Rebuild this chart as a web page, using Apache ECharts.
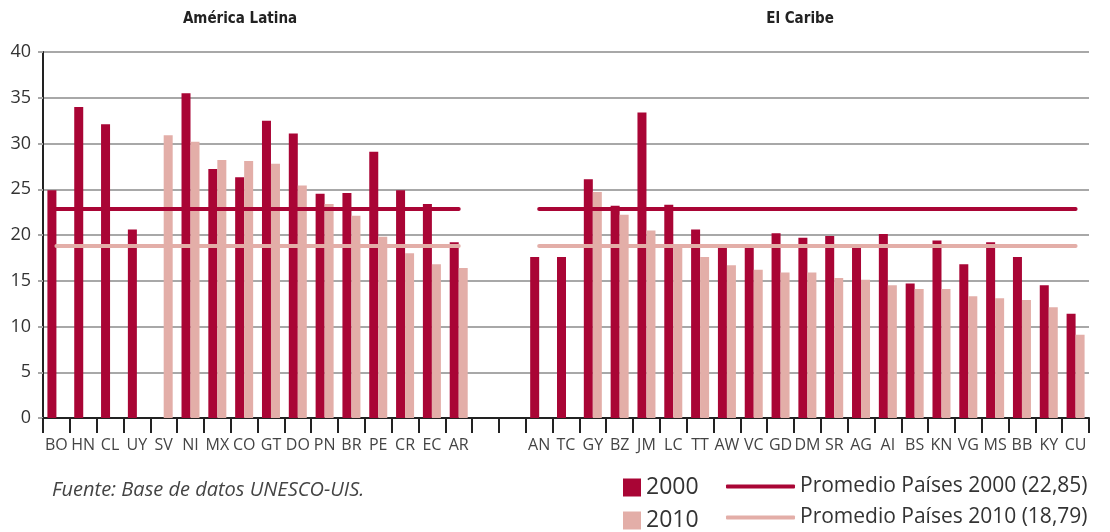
<!DOCTYPE html>
<html>
<head>
<meta charset="utf-8">
<script src="https://cdn.jsdelivr.net/npm/echarts@6/dist/echarts.min.js"></script>
<style>
html, body { margin: 0; padding: 0; background: #fff; }
#main { width: 1110px; height: 532px; }
</style>
</head>
<body>
<div id="main"></div>
<script>
// paises y valores (lectura del grafico)
var latin_cats	= ['BO', 'HN', 'CL', 'UY', 'SV', 'NI', 'MX', 'CO', 'GT', 'DO', 'PN', 'BR', 'PE', 'CR', 'EC', 'AR'];
var latin_2000	= [24.9, 34.0, 32.1, 20.6, null, 35.5, 27.2, 26.3, 32.5, 31.1, 24.5, 24.6, 29.1, 24.9, 23.4, 19.2];
var latin_2010	= [null, null, null, null, 30.9, 30.2, 28.2, 28.1, 27.8, 25.4, 23.4, 22.1, 19.8, 18.0, 16.8, 16.4];
var caribe_cats	= ['AN', 'TC', 'GY', 'BZ', 'JM', 'LC', 'TT', 'AW', 'VC', 'GD', 'DM', 'SR', 'AG', 'AI', 'BS', 'KN', 'VG', 'MS', 'BB', 'KY', 'CU'];
var caribe_2000	= [17.6, 17.6, 26.1, 23.2, 33.4, 23.3, 20.6, 18.7, 18.7, 20.2, 19.7, 19.9, 18.7, 20.1, 14.7, 19.4, 16.8, 19.2, 17.6, 14.5, 11.4];
var caribe_2010	= [null, null, 24.7, 22.2, 20.5, 19.0, 17.6, 16.7, 16.2, 15.9, 15.9, 15.3, 15.1, 14.5, 14.1, 14.1, 13.3, 13.1, 12.9, 12.1, 9.1];
var gap_cats	= [' ', '  '];
var avg_2000	= 22.85;
var avg_2010	= 18.79;
var y_ticks	= [0, 5, 10, 15, 20, 25, 30, 35, 40];

var dark	= '#a90535';
var light	= '#e3aea8';
var font	= 'Open Sans';

function gap_nulls() {
    return gap_cats.map(function() { return null; });
}
function avg_line(v) {
    var out = [];
    latin_cats.forEach(function() { out.push(v); });
    gap_cats.forEach(function() { out.push(null); });
    caribe_cats.forEach(function() { out.push(v); });
    return out;
}

var categories	= latin_cats.concat(gap_cats, caribe_cats);
var data_2000	= latin_2000.concat(gap_nulls(), caribe_2000);
var data_2010	= latin_2010.concat(gap_nulls(), caribe_2010);

var name_avg_2000 = 'Promedio Países 2000 (22,85)';
var name_avg_2010 = 'Promedio Países 2010 (18,79)';

var option = {
    animation: false,
    textStyle: { fontFamily: font },
    title: [
	{
	    text: 'América Latina',
	    left: 235, top: 7, textAlign: 'center',
	    textStyle: { fontFamily: 'DejaVu Sans Condensed', fontWeight: 'bold', fontSize: 15, color: '#222' }
	},
	{
	    text: 'El Caribe',
	    left: 795, top: 7, textAlign: 'center',
	    textStyle: { fontFamily: 'DejaVu Sans Condensed', fontWeight: 'bold', fontSize: 15, color: '#222' }
	},
	{
	    text: 'Fuente: Base de datos UNESCO-UIS.',
	    left: 47, top: 475,
	    textStyle: { fontFamily: font, fontStyle: 'italic', fontWeight: 'normal', fontSize: 20, color: '#444' }
	}
    ],
    legend: [
	{
	    data: ['2000', '2010'],
	    orient: 'vertical',
	    left: 623, top: 476, height: 60,
	    padding: 0,
	    itemWidth: 18, itemHeight: 18, itemGap: 10,
	    icon: 'rect',
	    textStyle: { fontFamily: font, fontSize: 23, color: '#333', lineHeight: 20 }
	},
	{
	    data: [name_avg_2000, name_avg_2010],
	    orient: 'vertical',
	    left: 726, top: 476, height: 60,
	    padding: 0,
	    itemWidth: 69, itemHeight: 4, itemGap: 10,
	    icon: 'roundRect',
	    textStyle: { fontFamily: font, fontSize: 21, color: '#333', lineHeight: 20 }
	}
    ],
    grid: { left: 43, right: 21, top: 52, bottom: 114 },
    xAxis: {
	type: 'category',
	data: categories,
	axisLine: { show: true, lineStyle: { color: '#222', width: 2 } },
	axisTick: { show: true, length: 15, alignWithLabel: false, lineStyle: { color: '#222', width: 2 } },
	axisLabel: { fontFamily: font, fontSize: 16, color: '#444', margin: 19, interval: 0 },
	splitLine: { show: false }
    },
    yAxis: {
	type: 'value',
	min: y_ticks[0], max: y_ticks[y_ticks.length - 1], interval: 5,
	axisLine: { show: true, lineStyle: { color: '#222', width: 2 } },
	axisTick: { show: true, length: 5, lineStyle: { color: '#a8a8a8', width: 2 } },
	axisLabel: { fontFamily: font, fontSize: 18, color: '#333', margin: 12 },
	splitLine: { show: true, lineStyle: { color: '#a8a8a8', width: 2 } }
    },
    series: [
	{
	    name: '2000', type: 'bar', data: data_2000,
	    barWidth: 9, barGap: '0%',
	    itemStyle: { color: dark }
	},
	{
	    name: '2010', type: 'bar', data: data_2010,
	    barWidth: 9, barGap: '0%',
	    itemStyle: { color: light }
	},
	{
	    name: name_avg_2000, type: 'line', data: avg_line(avg_2000),
	    symbol: 'none', connectNulls: false, z: 5,
	    itemStyle: { color: dark },
	    lineStyle: { color: dark, width: 4, cap: 'round' }
	},
	{
	    name: name_avg_2010, type: 'line', data: avg_line(avg_2010),
	    symbol: 'none', connectNulls: false, z: 4,
	    itemStyle: { color: light },
	    lineStyle: { color: light, width: 4, cap: 'round' }
	}
    ]
};

var chart = echarts.init(document.getElementById('main'));
chart.setOption(option);
</script>
</body>
</html>
